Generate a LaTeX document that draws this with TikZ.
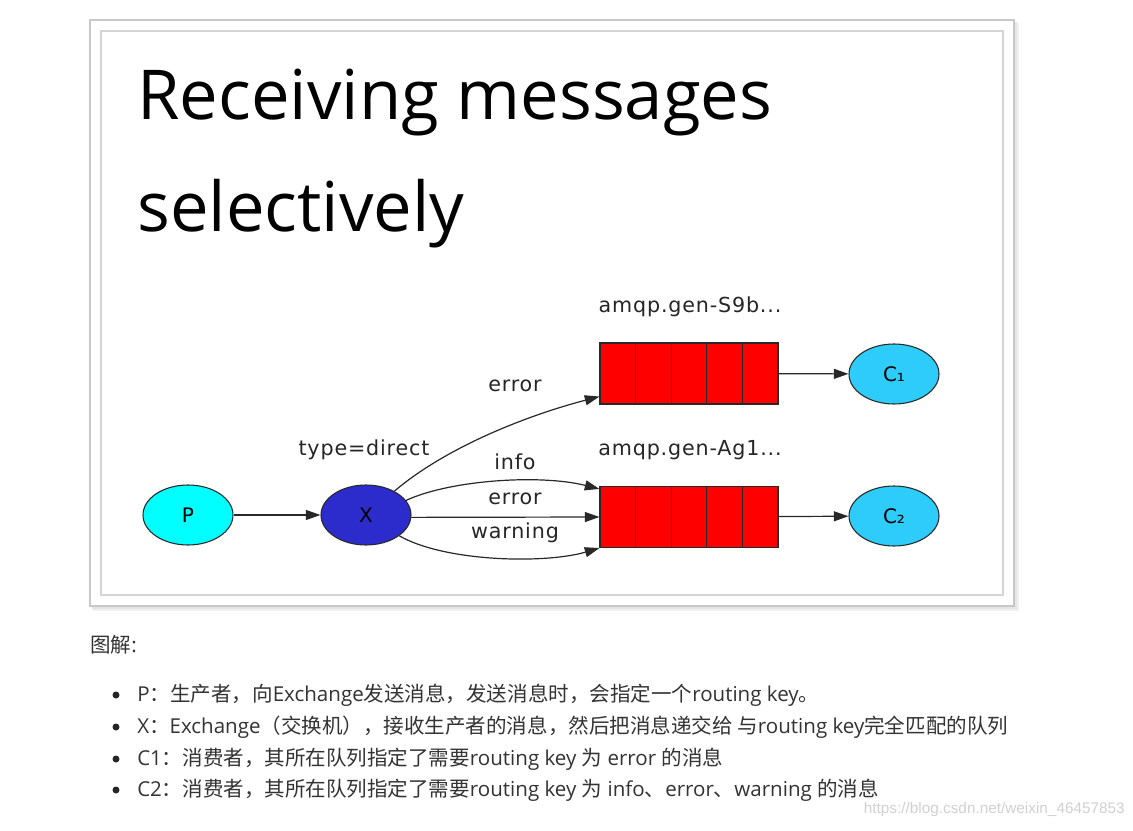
\documentclass[tikz,border=0pt]{standalone}
\usepackage{fontspec}
\setmainfont{Open Sans}
\newfontfamily\cjk{Noto Sans CJK SC}
\newfontfamily\dv{DejaVu Sans}
\newfontfamily\dvl[LetterSpace=4]{DejaVu Sans}
\newfontfamily\wm{Liberation Sans}
\usetikzlibrary{shapes.geometric,arrows.meta,calc}
\definecolor{pcol}{RGB}{0,255,255}
\definecolor{xcol}{RGB}{44,44,204}
\definecolor{ccol}{RGB}{46,204,250}
\definecolor{edgec}{RGB}{40,40,40}
\definecolor{txt}{RGB}{51,51,51}
\definecolor{frameA}{RGB}{200,200,200}
\definecolor{frameB}{RGB}{212,212,212}
\tikzset{
  ell/.style={ellipse, draw=edgec, line width=0.8pt, minimum width=67.5pt, minimum height=45pt, inner sep=0pt, font=\dv\fontsize{15}{17}\selectfont},
  queue/.style={draw=edgec, fill=red, line width=0.8pt, minimum width=133.5pt, minimum height=45.75pt, inner sep=0pt},
  arr/.style={draw=edgec, line width=0.9pt, -{Triangle[length=11pt,width=7.5pt]}},
  lbl/.style={font=\dvl\fontsize{15.5}{18}\selectfont, text=black!85, inner sep=0pt},
  btxt/.style={anchor=west, inner sep=0pt, text=txt, font=\fontsize{15.4}{18}\selectfont},
  title/.style={anchor=base west, inner sep=0pt, font=\fontsize{51.6}{58}\selectfont, text=black}
}
\begin{document}
\begin{tikzpicture}[x=0.75pt,y=-0.75pt]
\useasboundingbox (0,0) rectangle (1133,831);
\fill[white] (0,0) rectangle (1133,831);
% frame with shadow
\fill[black!6] (93,23) rectangle (1019,611);
\fill[black!10] (92,22) rectangle (1017,609);
\draw[frameA, fill=white, line width=0.9pt] (90,20) rectangle (1014,606);
\draw[frameB, line width=0.9pt] (101,31) rectangle (1003,595);
% title
\node[title] (t1) at (137,120) {Receiving messages};
\node[title] (t2) at (137,232) {selectively};
% nodes
\node[ell, fill=pcol] (P) at (188,515) {P};
\node[ell, fill=xcol] (X) at (366,515) {X};
\node[ell, fill=ccol] (C1) at (894,374) {C₁};
\node[ell, fill=ccol] (C2) at (894,516) {C₂};
\node[queue] (q1) at (689,373.5) {};
\node[queue] (q2) at (689,517) {};
\foreach \q in {q1,q2}{
  \foreach \k in {0.2,0.4,0.6,0.8}{
    \draw[edgec, line width=0.8pt] ($(\q.north west)!\k!(\q.north east)$) -- ($(\q.south west)!\k!(\q.south east)$);
  }
}
% labels
\node[lbl] (tl) at (364,450) {type=direct};
\node[lbl] (ql1) at (690,307) {amqp.gen-S9b...};
\node[lbl] (ql2) at (690,450) {amqp.gen-Ag1...};
\node[lbl] (le1) at (515,386) {error};
\node[lbl] (li) at (515,462) {info};
\node[lbl] (le2) at (515,499) {error};
\node[lbl] (lw) at (515,533) {warning};
% edges
\coordinate (q1in) at ($(q1.south west)+(0,-8)$);
\coordinate (q2top) at ($(q2.north west)+(0,3)$);
\draw[arr] (P) -- (X);
\draw[arr] (X.40) .. controls (445,448) and (525,416) .. (q1in);
\draw[arr] (X.20) .. controls (450,480) and (540,474) .. (q2top);
\draw[arr] (X.-3) -- (q2.west);
\draw[arr] (X.-32) .. controls (445,562) and (545,564) .. (q2.south west);
\draw[arr] (q1) -- (C1);
\draw[arr] (q2) -- (C2);
% caption text
\node[btxt] (cap) at (90,645) {{\cjk 图解}:};
\foreach \yy in {695,727,759,790}{ \fill[black!85] (116,\yy) circle (3.5); }
\node[btxt] (b1) at (137,695) {P{\cjk ：生产者，向}Exchange{\cjk 发送消息，发送消息时，会指定一个}routing key{\cjk 。}};
\node[btxt] (b2) at (137,727) {X{\cjk ：}Exchange{\cjk （交换机），接收生产者的消息，然后把消息递交给 与}routing key{\cjk 完全匹配的队列}};
\node[btxt] (b3) at (137,759) {C1{\cjk ：消费者，其所在队列指定了需要}routing key {\cjk 为} error {\cjk 的消息}};
\node[btxt] (b4) at (137,790) {C2{\cjk ：消费者，其所在队列指定了需要}routing key {\cjk 为} info{\cjk 、}error{\cjk 、}warning {\cjk 的消息}};
\node[anchor=east, inner sep=0pt, text=black!18, font=\wm\fontsize{11.5}{13}\selectfont] (wmk) at (1125,810) {https://blog.csdn.net/weixin\_46457853};
\end{tikzpicture}
\end{document}
